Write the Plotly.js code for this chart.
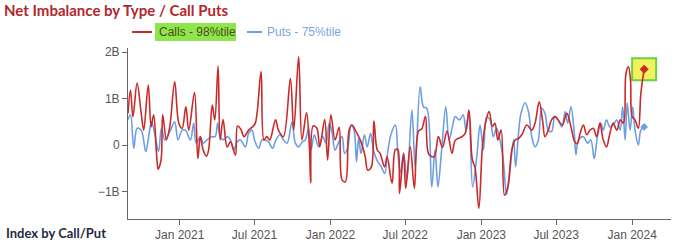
<!DOCTYPE html>
<html><head><meta charset="utf-8">
<script src="https://cdn.plot.ly/plotly-3.0.1.min.js"></script>
<style>html,body{margin:0;padding:0;background:#fff}#chart{width:679px;height:244px}</style>
</head><body><div id="chart"></div>
<script>
// Net imbalance, billions
const callsDates = ['2020-08-29','2020-09-04','2020-09-10','2020-09-20','2020-09-30','2020-10-06','2020-10-17','2020-10-24','2020-10-30','2020-11-06','2020-11-10','2020-11-17','2020-11-21','2020-11-30','2020-12-08','2020-12-20','2020-12-30',
'2021-01-07','2021-01-16','2021-01-23','2021-02-06','2021-02-14','2021-02-20','2021-02-27','2021-03-07','2021-03-12','2021-03-21','2021-03-27','2021-04-04','2021-04-09','2021-04-16','2021-04-26','2021-05-04','2021-05-16','2021-05-21','2021-05-29','2021-06-06','2021-06-17','2021-06-25','2021-07-03','2021-07-17','2021-07-24','2021-07-31','2021-08-07','2021-08-21','2021-08-28','2021-09-09','2021-09-26','2021-10-04','2021-10-16','2021-10-24','2021-11-04','2021-11-11','2021-11-14','2021-11-20','2021-11-29','2021-12-06','2021-12-18','2021-12-25',
'2022-01-02','2022-01-12','2022-01-22','2022-01-29','2022-02-06','2022-02-15','2022-02-22','2022-03-02','2022-03-14','2022-03-26','2022-04-01','2022-04-10','2022-04-16','2022-04-24','2022-05-01','2022-05-12','2022-05-18','2022-05-30','2022-06-07','2022-06-13','2022-06-17','2022-06-27','2022-07-02','2022-07-13','2022-07-23','2022-08-02','2022-08-10','2022-08-19','2022-08-27','2022-09-09','2022-09-19','2022-09-29','2022-10-10','2022-10-22','2022-10-30','2022-11-15','2022-11-23','2022-12-02','2022-12-10','2022-12-17','2022-12-26',
'2023-01-04','2023-01-13','2023-01-20','2023-01-28','2023-02-03','2023-02-10','2023-02-18','2023-02-26','2023-03-06','2023-03-16','2023-03-24','2023-04-01','2023-04-09','2023-04-21','2023-05-03','2023-05-11','2023-05-21','2023-05-29','2023-06-04','2023-06-12','2023-06-20','2023-06-28','2023-07-06','2023-07-16','2023-07-27','2023-08-06','2023-08-15','2023-08-21','2023-08-28','2023-09-05','2023-09-13','2023-09-21','2023-09-29','2023-10-07','2023-10-15','2023-10-23','2023-10-31','2023-11-08','2023-11-16','2023-11-25','2023-12-03','2023-12-11','2023-12-17','2023-12-23','2023-12-28',
'2024-01-01','2024-01-08','2024-01-16','2024-01-22','2024-01-30'];
const callsValues = [0.68,1.18,0.61,1.33,0.68,0.32,1.29,0.39,0.65,-0.18,-0.52,-0.32,0.65,0.11,0.39,1.36,0.47,
0.36,0.82,0.32,1.13,-0.29,0.18,-0.11,-0.24,-0.11,0.86,0.54,1.70,0.11,0.55,-0.04,0.07,-0.22,0.41,0.34,0.18,0.32,0.38,0.47,1.58,0.11,0.18,0.11,0.54,0.32,0.18,1.43,0.32,1.90,0.11,0.70,-0.04,-0.81,0.41,0.36,-0.04,0.55,-0.32,
0.65,0.11,0.38,-0.75,-0.79,0.32,0.43,0.32,0.11,-0.25,-0.54,-0.47,0.52,-0.10,-0.18,-0.47,-0.25,-0.82,-0.10,-0.10,-1.04,-0.18,-0.93,-0.04,-0.93,0.30,0.35,0.62,-0.20,-0.25,0.18,-0.05,0.30,-0.18,0.10,0.18,0.25,0.75,-0.30,-0.50,-1.36,
0.00,0.55,0.72,0.40,0.47,0.11,0.32,-1.08,-0.90,-0.10,0.11,0.14,0.22,0.43,0.32,0.47,0.93,0.54,0.18,0.32,0.54,0.61,0.54,0.43,0.68,0.39,0.07,0.03,0.25,0.43,0.22,0.32,0.36,0.18,0.47,0.11,-0.04,0.25,0.47,0.32,0.54,0.47,1.54,1.68,1.40,
0.61,0.54,0.36,1.10,1.63];

const putsDates = ['2020-08-29','2020-09-04','2020-09-12','2020-09-20','2020-09-30','2020-10-11','2020-10-18','2020-10-25','2020-11-03','2020-11-11','2020-11-18','2020-11-26','2020-12-04','2020-12-10','2020-12-20','2020-12-28',
'2021-01-07','2021-01-15','2021-01-27','2021-02-04','2021-02-10','2021-02-20','2021-02-27','2021-03-08','2021-03-19','2021-03-28','2021-04-03','2021-04-09','2021-04-17','2021-04-26','2021-05-04','2021-05-12','2021-05-20','2021-05-28','2021-06-09','2021-06-17','2021-06-25','2021-07-01','2021-07-11','2021-07-19','2021-07-27','2021-08-04','2021-08-14','2021-08-22','2021-09-01','2021-09-09','2021-09-18','2021-09-30','2021-10-08','2021-10-16','2021-10-25','2021-11-01','2021-11-09','2021-11-15','2021-11-23','2021-12-03','2021-12-13','2021-12-21','2021-12-29',
'2022-01-05','2022-01-12','2022-01-20','2022-01-29','2022-02-04','2022-02-12','2022-02-20','2022-02-27','2022-03-05','2022-03-10','2022-03-16','2022-03-24','2022-03-31','2022-04-08','2022-04-15','2022-04-23','2022-05-04','2022-05-12','2022-05-20','2022-05-28','2022-06-07','2022-06-13','2022-06-19','2022-06-27','2022-07-05','2022-07-17','2022-07-25','2022-08-06','2022-08-14','2022-08-22','2022-09-03','2022-09-11','2022-09-18','2022-09-27','2022-10-07','2022-10-15','2022-10-23','2022-10-30','2022-11-09','2022-11-18','2022-11-25','2022-12-02','2022-12-11','2022-12-21','2022-12-29',
'2023-01-06','2023-01-14','2023-01-22','2023-01-30','2023-02-07','2023-02-15','2023-02-23','2023-03-03','2023-03-09','2023-03-20','2023-03-25','2023-04-01','2023-04-07','2023-04-17','2023-04-25','2023-05-03','2023-05-11','2023-05-19','2023-05-27','2023-06-04','2023-06-12','2023-06-20','2023-06-28','2023-07-06','2023-07-15','2023-07-23','2023-07-29','2023-08-06','2023-08-14','2023-08-18','2023-08-24','2023-09-05','2023-09-15','2023-09-23','2023-10-01','2023-10-09','2023-10-17','2023-10-23','2023-10-31','2023-11-08','2023-11-16','2023-11-25','2023-12-03','2023-12-09','2023-12-15','2023-12-20','2023-12-27',
'2024-01-02','2024-01-08','2024-01-16','2024-01-22','2024-01-30'];
const putsValues = [0.55,0.65,-0.07,0.36,0.32,-0.14,0.18,0.50,0.18,-0.14,0.36,0.11,0.22,0.32,0.50,0.11,
0.32,0.32,0.11,0.47,0.04,0.18,0.04,0.11,0.18,0.18,0.47,0.18,0.11,0.18,0.11,-0.11,0.07,0.11,-0.04,0.25,0.32,0.11,-0.07,0.11,0.11,0.07,-0.07,0.11,0.22,0.11,0.04,0.50,0.04,-0.04,0.07,0.11,0.36,-0.11,0.22,-0.04,0.18,0.04,0.47,
0.25,-0.11,0.04,0.18,-0.18,-0.04,0.43,0.32,-0.36,0.14,-0.18,0.22,-0.04,0.25,-0.11,-0.32,-0.47,-0.61,-0.11,0.25,0.43,-0.18,-0.60,-0.18,-0.75,0.75,-0.47,1.25,0.82,0.79,-0.90,-0.10,-0.90,-0.10,0.82,0.11,0.39,0.61,0.54,0.65,0.32,0.68,-0.90,-0.25,0.43,
-0.11,0.60,0.54,0.18,0.36,0.11,-0.32,-1.06,-0.75,0.11,-0.47,0.25,0.68,0.91,0.72,0.18,-0.04,0.11,0.79,0.68,0.32,0.29,0.61,0.54,0.39,0.72,0.47,0.82,0.25,-0.21,0.11,0.18,0.04,0.11,-0.29,0.18,0.47,0.32,0.54,0.39,0.43,0.54,0.32,0.82,0.11,0.90,0.32,
0.82,0.32,0.00,0.32,0.39];

const seriesNames = ['Calls - 98%tile','Puts - 75%tile'];
const xTickValues = ['2021-01-01','2021-07-01','2022-01-01','2022-07-01','2023-01-01','2023-07-01','2024-01-01'];
const xTickLabels = ['Jan 2021','Jul 2021','Jan 2022','Jul 2022','Jan 2023','Jul 2023','Jan 2024'];
const yTickValues = [-1,0,1,2];
const yTickLabels = ['\u22121B','0','1B','2B'];

const RED = '#c92a2a', BLUE = '#6e9fe2';
const lastCallX = callsDates[callsDates.length-1], lastCallY = callsValues[callsValues.length-1];
const lastPutX = putsDates[putsDates.length-1], lastPutY = putsValues[putsValues.length-1];

const traces = [
  {x: putsDates, y: putsValues, type:'scatter', mode:'lines', name: seriesNames[1],
   line:{color:BLUE, width:1.6, shape:'spline', smoothing:1}, hoverinfo:'skip'},
  {x: callsDates, y: callsValues, type:'scatter', mode:'lines', name: seriesNames[0],
   line:{color:RED, width:1.6, shape:'spline', smoothing:1}, hoverinfo:'skip'},
  {x:[lastPutX], y:[lastPutY], type:'scatter', mode:'markers', marker:{color:BLUE, size:6, symbol:'diamond'}, showlegend:false},
  {x:[lastCallX], y:[lastCallY], type:'scatter', mode:'markers', marker:{color:RED, size:7, symbol:'diamond'}, showlegend:false}
];

const FONT = 'Liberation Sans, Arial, sans-serif';
const layout = {
  width:679, height:244,
  margin:{l:128, r:8, t:48, b:25},
  paper_bgcolor:'#fff', plot_bgcolor:'#fff',
  showlegend:false,
  font:{family:FONT, size:12, color:'#555'},
  title:{text:'Net Imbalance by Type / Call Puts', xref:'container', yref:'container', x:4/679, xanchor:'left', y:1-11/244, yanchor:'middle',
         font:{family:'Lato, Open Sans, sans-serif', size:15, weight:'bold', color:'#b3262b'}},
  xaxis:{type:'date', range:['2020-08-29','2024-04-04'], tickvals:xTickValues, ticktext:xTickLabels,
         showline:true, linecolor:'#666', linewidth:1, ticks:'outside', ticklen:5, tickcolor:'#666',
         showgrid:false, zeroline:false, tickfont:{family:FONT, size:12, color:'#555'}},
  yaxis:{range:[-1.59, 2.086], tickvals:yTickValues, ticktext:yTickLabels,
         showline:true, linecolor:'#666', linewidth:1, ticks:'outside', ticklen:5, tickcolor:'#666',
         showgrid:false, zeroline:false, tickfont:{family:FONT, size:12, color:'#555'}},
  shapes:[
    {type:'rect', xref:'paper', yref:'paper', x0:(155-128)/543, x1:(236-128)/543, y0:(219-41)/171, y1:(219-23)/171,
     fillcolor:'#8ee64c', line:{width:0}},
    {type:'line', xref:'paper', yref:'paper', x0:(132-128)/543, x1:(152-128)/543, y0:(219-32)/171, y1:(219-32)/171,
     line:{color:RED, width:2}},
    {type:'line', xref:'paper', yref:'paper', x0:(247-128)/543, x1:(262-128)/543, y0:(219-32)/171, y1:(219-32)/171,
     line:{color:BLUE, width:2}},
    {type:'rect', layer:'below', xref:'x', yref:'y', xsizemode:'pixel', ysizemode:'pixel',
     xanchor:lastCallX, yanchor:lastCallY, x0:-12, x1:12, y0:-11, y1:11,
     fillcolor:'#f2f25e', line:{color:'#6ad23a', width:2}}
  ],
  annotations:[
    {xref:'paper', yref:'paper', x:(157-128)/543, y:(219-32)/171, xanchor:'left', yanchor:'middle', showarrow:false,
     text:seriesNames[0], font:{family:FONT, size:12, color:'#4f4a1c'}},
    {xref:'paper', yref:'paper', x:(265-128)/543, y:(219-32)/171, xanchor:'left', yanchor:'middle', showarrow:false,
     text:seriesNames[1], font:{family:FONT, size:12, color:'#7aa6de'}},
    {xref:'paper', yref:'paper', x:(4-128)/543, y:(219-233)/171, xanchor:'left', yanchor:'middle', showarrow:false,
     text:'Index by Call/Put', font:{family:'Lato, Open Sans, sans-serif', size:13, weight:'bold', color:'#1f2a44'}}
  ]
};
Plotly.newPlot('chart', traces, layout, {staticPlot:true, displayModeBar:false});
</script></body></html>
